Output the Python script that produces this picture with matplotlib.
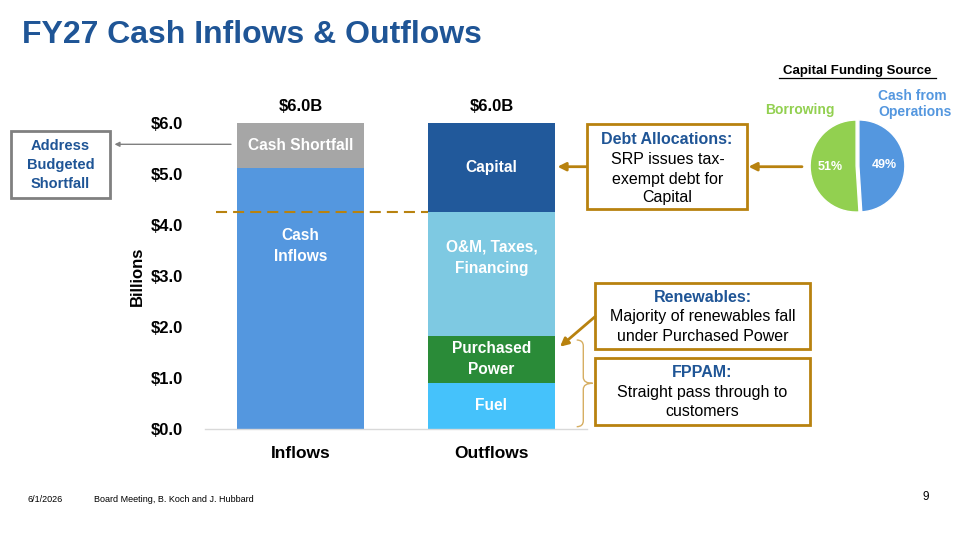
import matplotlib
matplotlib.use('Agg')
import matplotlib.pyplot as plt
from matplotlib.patches import Rectangle, PathPatch
from matplotlib.path import Path

plt.rcParams['font.family'] = ['Liberation Sans', 'DejaVu Sans']

# --- data ---
categories = ['Inflows', 'Outflows']

inflow_labels = ['Cash\nInflows', 'Cash Shortfall']
inflow_values = [5.12, 0.88]

outflow_labels = ['Fuel', 'Purchased\nPower', 'O&M, Taxes,\nFinancing', 'Capital']
outflow_values = [0.91, 0.91, 2.44, 1.74]

y_ticks = [0, 1, 2, 3, 4, 5, 6]

funding_labels = ['Cash from\nOperations', 'Borrowing']
funding_shares = [49, 51]

# --- styles ---
inflow_colors = ['#5497DF', '#A6A6A6']
outflow_colors = ['#45C2FB', '#2A8B38', '#7EC9E2', '#21599B']
inflow_label_frac = [0.70, 0.5]
outflow_label_frac = [0.5, 0.5, 0.63, 0.5]
funding_colors = ['#5497DF', '#92D050']

TITLE_BLUE = '#1F5596'
GOLD = '#B8820F'
GRAY = '#808080'

W, H = 957, 546
fig = plt.figure(figsize=(W / 100, H / 100), dpi=100)

# overlay in pixel coords for slide text / callouts (drawn on top)
ov = fig.add_axes([0, 0, 1, 1], zorder=5)
ov.set_xlim(0, W)
ov.set_ylim(H, 0)
ov.axis('off')

# --- stacked bars ---
ax = fig.add_axes([205 / W, (H - 429) / H, 382 / W, (429 - 122.7) / H], zorder=1)
ax.set_facecolor('none')
bar_w = 0.667


def stack(x, values, colors, labels, fracs):
    bottom = 0
    for v, c, lab, f in zip(values, colors, labels, fracs):
        ax.bar(x, v, bottom=bottom, width=bar_w, color=c, edgecolor='none', zorder=2)
        ax.text(x, bottom + v * f, lab, ha='center', va='center', color='white',
                fontsize=11.2, fontweight='bold', linespacing=1.5, zorder=3)
        bottom += v
    ax.text(x, bottom + 0.32, f'${bottom:.1f}B', ha='center', va='center',
            fontsize=12, fontweight='bold')
    return bottom


stack(0, inflow_values, inflow_colors, inflow_labels, inflow_label_frac)
stack(1, outflow_values, outflow_colors, outflow_labels, outflow_label_frac)

# dashed line marking the start of capital spend
cap_base = sum(outflow_values[:3])
ax.plot([-0.44, 1 - bar_w / 2], [cap_base, cap_base], color=GOLD, lw=1.5,
        dashes=(5.3, 2.9), zorder=3, clip_on=False)

ax.set_xlim(-0.5, 1.5)
ax.set_ylim(0, 6)
ax.set_yticks(y_ticks)
ax.set_yticklabels([f'${t:.1f}' for t in y_ticks], fontsize=12, fontweight='bold')
ax.set_xticks([0, 1])
ax.set_xticklabels(categories, fontsize=12.5, fontweight='bold')
ax.tick_params(axis='y', length=0, pad=16)
ax.tick_params(axis='x', length=0, pad=12)
for s in ['top', 'right', 'left']:
    ax.spines[s].set_visible(False)
ax.spines['bottom'].set_color('#D9D9D9')
ax.spines['bottom'].set_linewidth(1)
ax.set_ylabel('Billions', fontsize=12, fontweight='bold')
ax.yaxis.set_label_coords(-0.158, 0.5)

# --- pie: capital funding source ---
cx, cy, r = 857.5, 166, 46
half = 50
pax = fig.add_axes([(cx - half) / W, (H - cy - half) / H, 2 * half / W, 2 * half / H], zorder=2)
wedges, _, pcts = pax.pie(funding_shares, colors=funding_colors, startangle=90,
                          counterclock=False, explode=[0.03, 0.03],
                          autopct='%d%%', pctdistance=0.56,
                          wedgeprops=dict(edgecolor='white', linewidth=1))
for t in pcts:
    t.set_color('white')
    t.set_fontsize(9)
    t.set_fontweight('bold')
pax.set_xlim(-half / r, half / r)
pax.set_ylim(-half / r, half / r)
pax.set_aspect('equal')
pax.axis('off')

ov.text(857, 71, 'Capital Funding Source', ha='center', va='center',
        fontsize=9.5, fontweight='bold')
ov.plot([779, 936], [78, 78], color='black', lw=0.9)
ov.text(878, 104, funding_labels[0], ha='left', va='center', fontsize=10,
        fontweight='bold', color=funding_colors[0], linespacing=1.25)
ov.text(800, 110, funding_labels[1], ha='center', va='center', fontsize=10,
        fontweight='bold', color=funding_colors[1])

# --- title and footer ---
ov.text(22, 35, 'FY27 Cash Inflows & Outflows', ha='left', va='center',
        fontsize=23, fontweight='bold', color=TITLE_BLUE)
ov.text(27, 499, '6/1/2026', ha='left', va='center', fontsize=6.5)
ov.text(94, 499, 'Board Meeting, B. Koch and J. Hubbard', ha='left', va='center', fontsize=6.5)
ov.text(926, 497, '9', ha='center', va='center', fontsize=8.5)


# --- callout boxes ---
def box(x0, y0, x1, y1, color, lw=2):
    ov.add_patch(Rectangle((x0, y0), x1 - x0, y1 - y0, fill=False,
                           edgecolor=color, linewidth=lw, zorder=4))


def arrow(x0, y0, x1, y1, color, lw=2, ms=12):
    ov.annotate('', xy=(x1, y1), xytext=(x0, y0),
                arrowprops=dict(arrowstyle='-|>', color=color, lw=lw,
                                mutation_scale=ms, shrinkA=0, shrinkB=0))


# address budgeted shortfall
box(11, 130.7, 110, 198.3, GRAY, lw=2)
for yy, s in zip([146, 164.5, 183.5], ['Address', 'Budgeted', 'Shortfall']):
    ov.text(60.5, yy, s, ha='center', va='center', fontsize=10.5,
            fontweight='bold', color=TITLE_BLUE)
arrow(231, 144.3, 114.5, 144.3, GRAY, lw=1, ms=7)

# debt allocations
box(586.7, 124, 746.7, 209.3, GOLD)
ov.text(666.7, 139, 'Debt Allocations:', ha='center', va='center',
        fontsize=11.5, fontweight='bold', color=TITLE_BLUE)
for yy, s in zip([160, 179.3, 197.5], ['SRP issues tax-', 'exempt debt for', 'Capital']):
    ov.text(667.5, yy, s, ha='center', va='center', fontsize=11.5)
arrow(586.7, 166.7, 557.5, 166.7, GOLD)
arrow(802, 166.7, 748.5, 166.7, GOLD)

# renewables
box(595, 283.3, 810, 349, GOLD)
ov.text(702.5, 297.7, 'Renewables:', ha='center', va='center',
        fontsize=11.5, fontweight='bold', color=TITLE_BLUE)
ov.text(702.5, 316.7, 'Majority of renewables fall', ha='center', va='center', fontsize=11.5)
ov.text(702.5, 336.5, 'under Purchased Power', ha='center', va='center', fontsize=11.5)
arrow(595, 316.7, 560, 346.7, GOLD)

# FPPAM
box(595, 358.3, 810, 425, GOLD)
ov.text(702.5, 372.7, 'FPPAM:', ha='center', va='center',
        fontsize=11.5, fontweight='bold', color=TITLE_BLUE)
ov.text(702.5, 392.3, 'Straight pass through to', ha='center', va='center', fontsize=11.5)
ov.text(702.5, 411.7, 'customers', ha='center', va='center', fontsize=11.5)

# curly brace over fuel + purchased power
bx, top, mid, bot, tip = 583.3, 340, 383.3, 426.7, 592.7
verts = [(576.7, top), (583.3, top), (bx, top + 6),
         (bx, mid - 6), (bx, mid), (tip, mid),
         (bx, mid), (bx, mid + 6),
         (bx, bot - 6), (583.3, bot), (576.7, bot)]
codes = [Path.MOVETO, Path.CURVE3, Path.CURVE3,
         Path.LINETO, Path.CURVE3, Path.CURVE3,
         Path.CURVE3, Path.CURVE3,
         Path.LINETO, Path.CURVE3, Path.CURVE3]
ov.add_patch(PathPatch(Path(verts, codes), fill=False, edgecolor='#D6AE62', lw=1))

fig.savefig('out.png', dpi=100)
